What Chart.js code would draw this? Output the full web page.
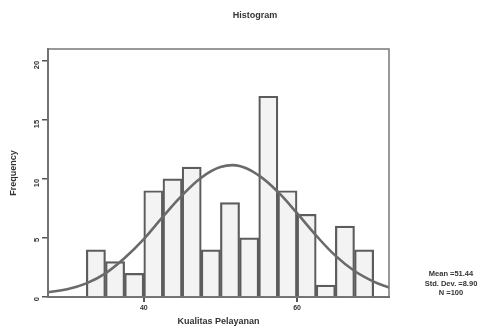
<!DOCTYPE html>
<html><head><meta charset="utf-8">
<script src="https://cdn.jsdelivr.net/npm/chart.js@4"></script>
<style>html,body{margin:0;padding:0;background:#fff}#c{display:block}</style>
</head><body>
<canvas id="c" width="486" height="327"></canvas>
<script>
const chartTitle = "Histogram";
const xTitle = "Kualitas Pelayanan";
const yTitle = "Frequency";
const binCenters = [33.75,36.25,38.75,41.25,43.75,46.25,48.75,51.25,53.75,56.25,58.75,61.25,63.75,66.25,68.75];
const frequencies = [4,3,2,9,10,11,4,8,5,17,9,7,1,6,4];
const curveX = [27.5,30,32.5,35,37.5,40,42.5,45,47.5,50,52.5,55,57.5,60,62.5,65,67.5,70,72];
const curveY = [0.4,0.65,1.15,2.0,3.3,4.9,6.8,8.6,10.1,11.0,11.1,10.3,8.9,7.1,5.2,3.5,2.2,1.3,0.8];
const xTicks = [40,60];
const yTicks = [0,5,10,15,20];
const statsLines = ["Mean =51.44","Std. Dev. =8.90","N =100"];

const FONT = '"Liberation Sans", Arial, sans-serif';
const extras = {
  id:'extras',
  afterDraw(chart){
    const ctx = chart.ctx, a = chart.chartArea;
    ctx.save();
    ctx.strokeStyle = '#777'; ctx.lineWidth = 1.5;
    ctx.strokeRect(a.left, a.top, a.right - a.left, a.bottom - a.top);
    ctx.fillStyle = '#333';
    ctx.font = 'bold 9px ' + FONT;
    ctx.textAlign = 'center'; ctx.textBaseline = 'middle';
    ctx.fillText(chartTitle, 255, 16);
    ctx.font = 'bold 7.5px ' + FONT;
    statsLines.forEach((t,i)=> ctx.fillText(t, 451, 274 + i*9.5));
    ctx.restore();
  }
};

new Chart(document.getElementById('c'), {
  type:'bar',
  data:{
    datasets:[
      {type:'line', data: curveX.map((x,i)=>({x, y: curveY[i]})), borderColor:'#6a6a6a', borderWidth:2.6,
       pointRadius:0, tension:0.4, fill:false, order:0},
      {type:'bar', data: binCenters.map((x,i)=>({x, y: frequencies[i]})), backgroundColor:'#f3f3f3',
       borderColor:'#5c5c5c', borderWidth:2.2, barPercentage:1, categoryPercentage:1, order:1}
    ]
  },
  options:{
    responsive:false, animation:false, devicePixelRatio:1,
    layout:{padding:{top:49,right:97,left:0,bottom:0}},
    plugins:{legend:{display:false}, tooltip:{enabled:false}, title:{display:false}},
    scales:{
      x:{type:'linear', min:27.5, max:72, offset:false,
        afterBuildTicks(s){ s.ticks = xTicks.map(v=>({value:v})); },
        afterFit(s){ s.height = 30; },
        grid:{offset:false, drawOnChartArea:false, drawTicks:true, tickLength:5, color:'#555', lineWidth:2},
        border:{display:true, color:'#666', width:2},
        ticks:{color:'#333', font:{size:7, weight:'bold', family:FONT}, padding:2, maxRotation:0},
        title:{display:true, text:xTitle, color:'#333', font:{size:9, weight:'bold', family:FONT}, padding:{top:0,bottom:0}}
      },
      y:{min:0, max:21,
        afterBuildTicks(s){ s.ticks = yTicks.map(v=>({value:v})); },
        afterFit(s){ s.width = 48; },
        grid:{drawOnChartArea:false, drawTicks:true, tickLength:6, color:'#555', lineWidth:1.5},
        border:{display:true, color:'#666', width:2},
        ticks:{color:'#333', font:{size:7.5, weight:'bold', family:FONT}, padding:5, minRotation:90, maxRotation:90},
        title:{display:true, text:yTitle, color:'#333', font:{size:9, weight:'bold', family:FONT}, padding:{top:8,bottom:0}}
      }
    }
  },
  plugins:[extras]
});
</script>
</body></html>
